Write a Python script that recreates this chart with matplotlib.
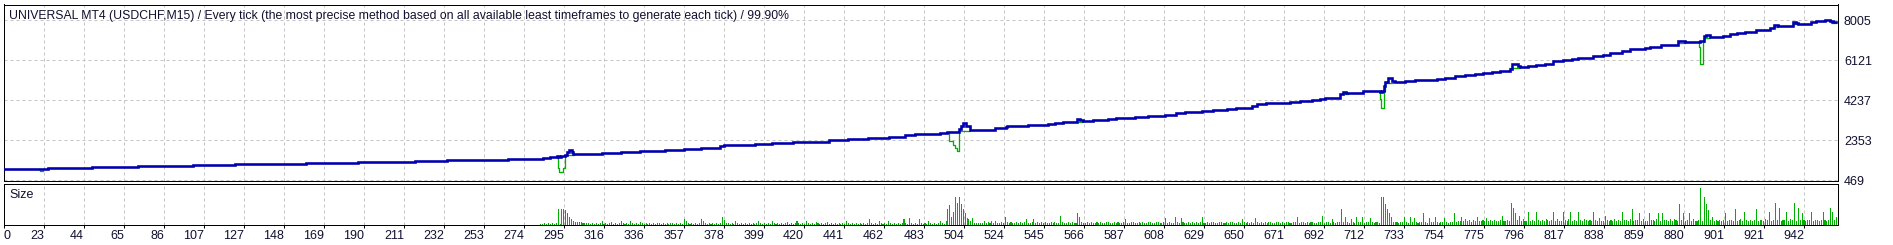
import matplotlib
matplotlib.use("Agg")
import matplotlib.pyplot as plt
import numpy as np

plt.rcParams['font.family'] = ['Liberation Sans', 'DejaVu Sans']

# ---------------- data ----------------
title_text = ("UNIVERSAL MT4 (USDCHF,M15) / Every tick (the most precise method based on all "
              "available least timeframes to generate each tick) / 99.90%")

xtick_labels = [0, 23, 44, 65, 86, 107, 127, 148, 169, 190, 211, 232, 253, 274, 295, 316,
                336, 357, 378, 399, 420, 441, 462, 483, 504, 524, 545, 566, 587, 608, 629,
                650, 671, 692, 712, 733, 754, 775, 796, 817, 838, 859, 880, 901, 921, 942]
ytick_values = [469, 2353, 4237, 6121, 8005]

# balance (blue), (trade position, balance)
bal_phase1 = [(0, 1000), (23, 1050), (46, 1110), (70, 1160), (99, 1205), (121, 1255),
              (158, 1300), (185, 1350), (215, 1395), (232, 1425), (264, 1475), (282, 1535),
              (286, 1567), (289.5, 1614), (290.5, 1567), (291.5, 1614), (293.5, 1650),
              (294.5, 1800), (295.8, 1896), (297, 1818)]
bal_phase2 = [(298, 1727), (312.8, 1774), (322.9, 1821), (332.8, 1849), (345.9, 1896),
              (356, 1943), (364.7, 1990), (374.7, 2084), (377, 2150), (393, 2180),
              (402, 2227), (413, 2259), (420, 2290), (432, 2353), (441.8, 2400),
              (452.3, 2450), (455.4, 2478), (463, 2525), (471.5, 2588), (476.7, 2651),
              (489.8, 2714), (493.6, 2745), (495, 2760), (496, 2730), (497, 2760),
              (499.9, 2870), (500.7, 3030), (502, 3187), (503.7, 3030), (505.5, 2838),
              (518.6, 2916)]
bal_phase3 = [(524.3, 2995), (524.7, 3028), (528.2, 3012), (536, 3075), (546.5, 3122),
              (550, 3185), (554.3, 3232), (561.3, 3342), (563, 3300), (564.8, 3264),
              (570, 3295), (577.9, 3342), (582.2, 3389), (587.5, 3420), (591.8, 3452),
              (598.8, 3499), (607.5, 3546), (613.6, 3640), (618, 3687), (626.7, 3734),
              (632.8, 3782), (639.8, 3813), (645, 3860), (650.3, 3891), (652.9, 3970),
              (655.5, 4048), (660.7, 4095), (669.4, 4127), (672.9, 4174), (678.2, 4221),
              (684.3, 4252), (688.6, 4299), (691.2, 4362), (699.1, 4520), (700.5, 4645),
              (702.5, 4600), (703.5, 4583), (711.3, 4661), (720, 4640), (721, 4661),
              (722, 4900), (722.8, 5100), (724.4, 5273), (726.6, 5148), (727.9, 5100),
              (733.1, 5132), (738.3, 5179), (749.7, 5226), (754, 5273)]
bal_phase4 = [(759.3, 5367), (764.5, 5414), (769.8, 5461), (774.1, 5540), (778.5, 5587),
              (782.9, 5634), (788.1, 5700), (789, 5933), (791, 5933), (792.5, 5854),
              (793.3, 5807), (797.7, 5854), (801.7, 5901), (806.4, 5964), (810.8, 6058),
              (816, 6137), (820.4, 6168), (823.8, 6215), (831.7, 6310), (836.9, 6357),
              (840.4, 6435), (846.5, 6545), (850.9, 6639), (858.7, 6686), (861.3, 6749),
              (867.4, 6843), (876.2, 7000), (878.3, 7000), (879.7, 6969), (886.6, 6984),
              (887.5, 7000), (889.6, 7267), (890.6, 7314), (892.7, 7189), (899.7, 7267),
              (903.2, 7330), (906.7, 7377), (911, 7424), (917.1, 7534), (924.1, 7628),
              (926.2, 7769), (928.5, 7707), (932, 7738), (936.3, 7895), (938, 7860),
              (939, 7816), (945.9, 7895), (948.5, 7958), (952.9, 8005), (955.5, 7960),
              (957, 7920), (959, 7895)]

# equity (green) where it differs from the balance
eq_dip_23 = [(18.5, 1000), (18.6, 910), (20.5, 910), (20.6, 1000)]
eq_dip_295 = [(289.3, 1567), (289.6, 1540), (290.1, 1067), (290.6, 860), (291.8, 860),
              (292.4, 1067), (293.6, 1067), (293.8, 1614), (294.5, 1646), (298, 1646),
              (298.2, 1727)]
eq_dip_500 = [(493.6, 2714), (494.6, 2320), (496.4, 2120), (497.6, 1975), (498.5, 1849),
              (499.8, 1849), (500, 2791), (505.5, 2791), (505.6, 2838)]
eq_dip_561 = [(561.3, 3232), (564.8, 3232), (564.9, 3264)]
eq_dip_587 = [(587.5, 3389), (591.8, 3389)]
eq_dip_700 = [(700.5, 4551), (703.5, 4551), (703.6, 4583)]
eq_dip_721 = [(719.8, 4661), (720.3, 4300), (720.8, 3892), (722.2, 3892), (722.3, 4661),
              (722.8, 5069), (726.6, 5069), (727, 5100)]
eq_dip_789 = [(788.1, 5776), (793.3, 5776), (793.4, 5807)]
eq_dip_877 = [(876.2, 6906), (879.7, 6906), (879.8, 6969)]
eq_dip_888 = [(886.6, 6969), (887.2, 6717), (887.7, 5933), (888.9, 5933), (889.2, 6969),
              (889.6, 7158), (892.7, 7158), (892.8, 7189)]
eq_dip_927 = [(926.2, 7660), (928.5, 7660), (928.6, 7707)]
eq_dip_937 = [(936.3, 7816), (939, 7816)]
eq_dip_956 = [(955.5, 7960), (956, 7880), (959, 7880)]

# size (volume) bars, first bar at trade 281
vol_first_trade = 281
vol_281_400 = [1, 1, 1.5, 1, 1.5, 1, 1.5, 1, 1.5, 16,
               1, 16, 16, 15, 12, 8, 5.5, 4, 3, 3,
               2.5, 2.5, 2, 1.5, 2, 1.5, 1, 1.5, 1, 1.5,
               1, 1.5, 3.5, 1, 2, 1, 1.5, 3, 1, 1.5,
               1, 1.5, 3.5, 1.5, 1, 1.5, 1, 3.5, 1.5, 1,
               1.5, 1, 3, 1.5, 1, 1.5, 1, 1.5, 1, 1.5,
               1, 2, 1.5, 1, 1.5, 1, 1.5, 1, 1.5, 2,
               1, 1.5, 1, 1.5, 1, 5.5, 4, 1.5, 1, 1.5,
               1, 1.5, 1, 1.5, 6, 4, 1.5, 1, 1.5, 1,
               1.5, 1, 1.5, 1, 1.5, 8, 5, 2, 1.5, 1,
               1.5, 1, 4, 1.5, 1, 1.5, 1, 1.5, 1, 1.5,
               1, 1.5, 1, 1.5, 4, 1.5, 1, 1.5, 1, 1.5]
vol_401_520 = [1, 3.5, 1.5, 1, 1.5, 1, 1.5, 1, 1.5, 3,
               1, 1.5, 1, 1.5, 4, 1.5, 1, 1.5, 1, 4,
               1.5, 1, 1.5, 1, 3, 1.5, 1, 1.5, 1, 1.5,
               3, 1, 1.5, 1, 1.5, 1, 1.5, 1, 1.5, 1,
               4, 1.5, 1, 1.5, 1, 1.5, 1, 1.5, 1, 1.5,
               1, 1.5, 6, 1.5, 1, 1.5, 1, 4, 1.5, 1,
               1.5, 1, 4, 1.5, 1, 1.5, 1, 1.5, 1, 1.5,
               6, 1.5, 1, 6.5, 1.5, 1, 1.5, 1, 6, 1.5,
               1, 1.5, 1, 4, 1.5, 1, 1.5, 1, 1.5, 4,
               1.5, 1, 4, 16, 20, 8, 13, 28, 22, 28,
               21, 16, 12, 7, 6, 4, 6.5, 2, 1.5, 2,
               1.5, 2, 3.5, 1.5, 3, 1.5, 3.5, 1.5, 4, 1.5]
vol_521_640 = [2, 3, 2, 8, 2.5, 1.5, 3, 2, 1.5, 2.5,
               2, 3, 1.5, 2.5, 6, 2, 1.5, 2.5, 6, 2,
               3, 1.5, 2.5, 2, 3, 1.5, 2, 3, 2, 2.5,
               1.5, 2, 8.5, 3, 2, 1.5, 2.5, 2, 3, 1.5,
               2, 12, 8, 3, 2, 1.5, 2.5, 2, 3, 2,
               1.5, 2.5, 2, 3, 1.5, 2, 2.5, 3, 2, 1.5,
               2.5, 2, 3, 1.5, 2, 2.5, 6, 2, 1.5, 2.5,
               3, 2, 1.5, 2.5, 2, 3, 2, 1.5, 2.5, 3,
               2, 1.5, 2.5, 3, 2, 1.5, 2.5, 6.5, 2, 3,
               1.5, 2, 8, 3, 2, 6.5, 2.5, 1.5, 2, 3,
               2, 2.5, 1.5, 3, 2, 2.5, 8, 2, 1.5, 3,
               2, 2.5, 3, 1.5, 2, 3, 2.5, 2, 1.5, 3]
vol_641_760 = [2, 2.5, 3, 2, 1.5, 3, 2, 6, 2.5, 2,
               3, 1.5, 2.5, 2, 6.5, 3, 2, 2.5, 1.5, 3,
               2, 2.5, 3, 2, 1.5, 3, 2.5, 2, 3, 1.5,
               2.5, 3, 2, 1.5, 3, 2.5, 8, 2, 3, 2.5,
               1.5, 3, 2, 2.5, 3, 1.5, 2, 3, 2.5, 8.5,
               2, 3, 2.5, 1.5, 6, 3, 2, 2.5, 3, 16,
               3, 8, 2.5, 2, 6, 3, 2, 8, 2.5, 3,
               8, 2, 3, 2.5, 7, 3, 2, 2.5, 3, 2,
               28, 28, 20.5, 16, 12, 8, 3, 2.5, 3, 2,
               3, 2.5, 8, 3, 2, 8, 2.5, 7, 3, 2,
               3, 2.5, 12, 3, 2, 7, 3, 2.5, 8, 3,
               2, 3, 2.5, 6.5, 3, 2, 3, 2.5, 12, 3]
vol_761_959 = [4, 3.5, 7.5, 4, 6, 3.5, 4.5, 3, 5, 4,
               7.5, 4, 3.5, 5, 4, 7, 3.5, 4.5, 4, 5,
               3.5, 4, 5, 8.5, 4, 3.5, 5, 4, 21.5, 17,
               12, 5, 8.5, 4, 5.5, 4, 3.5, 12.5, 4, 5,
               4, 12.5, 4.5, 3.5, 5, 4, 6, 4.5, 3.5, 5,
               12.5, 4, 5.5, 4, 3.5, 12.5, 5, 4, 6, 12.5,
               4, 5, 3.5, 12.5, 4.5, 4, 6, 5, 3.5, 4.5,
               4, 12.5, 5, 4, 6.5, 4, 3.5, 8.5, 5, 4,
               4.5, 4, 6, 3.5, 5, 4, 12.5, 4.5, 5, 4,
               6, 15.5, 4, 5, 4.5, 11.5, 4, 5.5, 4, 3.5,
               11.5, 4.5, 5, 4, 6, 11.5, 4, 11.5, 5, 4.5,
               4, 5.5, 4, 6, 4.5, 4, 20.5, 4.5, 12, 4,
               5, 11.5, 4, 5.5, 4, 3.5, 5, 36.5, 4, 27.5,
               21, 14.5, 5, 7.5, 4, 4.5, 3.5, 5, 4, 4.5,
               11.5, 4, 5, 4.5, 3.5, 15.5, 4, 5, 6, 4,
               12.5, 4.5, 4, 5, 3.5, 4.5, 15.5, 4, 5, 4.5,
               4, 6, 4.5, 12.5, 4, 5, 21.5, 4.5, 17, 4,
               5, 4.5, 12.5, 4, 6, 4.5, 21.5, 4, 17, 5,
               11.5, 4.5, 4, 5, 4.5, 12.5, 4, 5, 4.5, 4,
               5, 12.5, 4.5, 4, 5, 16.5, 12.5, 5, 7.5]

# ---------------- layout ----------------
W, H, DPI = 1893, 245, 100
PX = 72.0 / DPI  # points per pixel
BLUE = '#0000b0'
GREEN = '#00b000'
GRID = '#c4c4c4'

fig = plt.figure(figsize=(W / DPI, H / DPI), dpi=DPI, facecolor='white')


def px_rect(x0, y0, x1, y1):
    return [x0 / W, 1 - y1 / H, (x1 - x0) / W, (y1 - y0) / H]


ax = fig.add_axes(px_rect(4, 4.5, 1838, 180.5))
axv = fig.add_axes(px_rect(4, 183.5, 1838, 224.5))

xmax = 1834 / (40 / (xtick_labels[-1] / (len(xtick_labels) - 1)))
tick_pos = np.linspace(0, xtick_labels[-1], len(xtick_labels))

for a in (ax, axv):
    a.set_xlim(0, xmax)
    for s in a.spines.values():
        s.set_linewidth(1.0 * PX)
        s.set_color('black')
    a.set_xticks(tick_pos)
    a.grid(True, axis='x', color=GRID, linestyle=(0, (3, 3)), linewidth=1.0 * PX)
    a.set_axisbelow(True)

# main panel
ax.set_ylim(469, 469 + 175.5 * 47.1)
ax.set_yticks(ytick_values)
ax.set_yticklabels([str(v) for v in ytick_values])
ax.yaxis.tick_right()
ax.tick_params(axis='y', length=0, pad=6 * PX, labelsize=9, labelcolor='#101030')
ax.tick_params(axis='x', length=0, labelbottom=False)
ax.grid(True, axis='y', color=GRID, linestyle=(0, (3, 3)), linewidth=1.0 * PX)

for seg in (eq_dip_23, eq_dip_295, eq_dip_500, eq_dip_561, eq_dip_587, eq_dip_700,
            eq_dip_721, eq_dip_789, eq_dip_877, eq_dip_888, eq_dip_927, eq_dip_937,
            eq_dip_956):
    t, v = zip(*seg)
    ax.plot(t, v, color=GREEN, lw=1.3 * PX, drawstyle='steps-post', zorder=3)

bal = bal_phase1 + bal_phase2 + bal_phase3 + bal_phase4
bt, bv = zip(*bal)
ax.plot(bt, bv, color=BLUE, lw=2.6 * PX, drawstyle='steps-post', zorder=4,
        solid_joinstyle='miter')

# size panel
vol = vol_281_400 + vol_401_520 + vol_521_640 + vol_641_760 + vol_761_959
vt = np.arange(vol_first_trade, vol_first_trade + len(vol))
axv.bar(vt, vol, width=0.55, color=GREEN, linewidth=0, antialiased=False, zorder=3)
axv.set_ylim(0, 41)
axv.set_yticks([])
axv.set_xticklabels([str(v) for v in xtick_labels])
axv.tick_params(axis='x', length=3 * PX, width=1.0 * PX, pad=2 * PX, labelsize=9,
                labelcolor='#101030')
for i, lab in enumerate(axv.get_xticklabels()):
    lab.set_ha('left' if i == 0 else 'right')
axv.text(5 / 1834, 1 - 14.5 / 41, "Size", transform=axv.transAxes, fontsize=9,
         va='baseline', ha='left', color='#101030')

# title, fitted to the reference width
t = fig.text(9 / W, 1 - 19 / H, title_text, fontsize=8.5, va='baseline', ha='left',
             color='#101030')
fig.canvas.draw()
w = t.get_window_extent().width
t.set_fontsize(8.5 * 776 / w)

fig.savefig('out.png', dpi=DPI, facecolor='white')
